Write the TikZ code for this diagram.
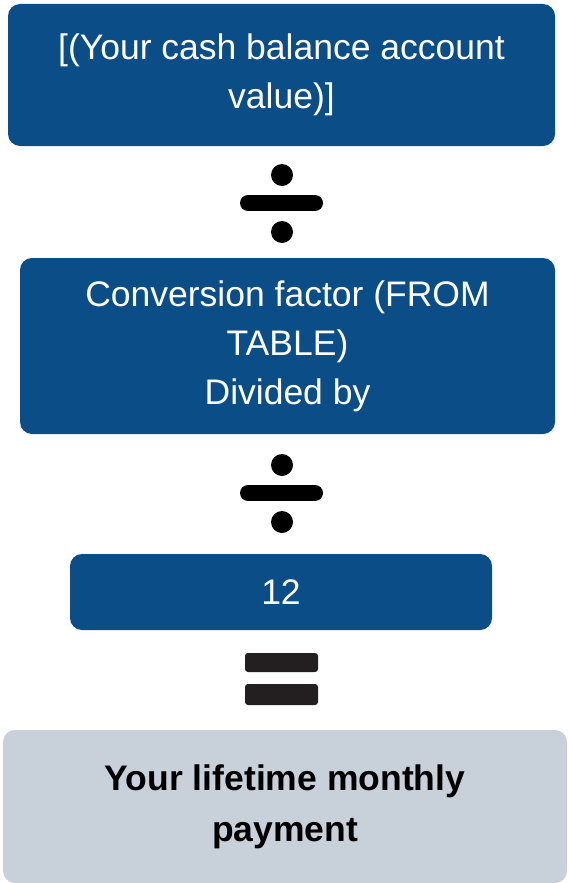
\documentclass[tikz,border=0pt]{standalone}
\usepackage{fontspec}
\setmainfont{Liberation Sans}
\usepackage{tikz}
\definecolor{boxblue}{HTML}{0B4D87}
\definecolor{boxgrey}{HTML}{C8D0DA}
\definecolor{opblack}{HTML}{231F20}
\tikzset{%
  bluebox/.style={shape=rectangle,rounded corners=12,fill=boxblue,text=white,align=center,
    font=\fontsize{35.5}{49}\selectfont,inner sep=0},
  greybox/.style={shape=rectangle,rounded corners=12,fill=boxgrey,text=black,align=center,
    font=\fontsize{35.5}{51}\selectfont\bfseries,inner sep=0},
  opdot/.style={fill=black},
  opbar/.style={draw=black,line width=16,line cap=round},
  eqbar/.style={fill=opblack,rounded corners=3}
}

\begin{document}
\begin{tikzpicture}[x=1pt,y=-1pt]
    \useasboundingbox (0,0) rectangle (569,883);
    \path
      (281.5,75) node (cash)[bluebox,minimum width=547,minimum height=142]
        {[(Your cash balance account\\value)]}
      (287.5,346) node (conv)[bluebox,minimum width=535,minimum height=176]
        {Conversion factor (FROM\\TABLE)\\Divided by}
      (281,592) node (twelve)[bluebox,minimum width=422,minimum height=76]{12}
      (285,806.5) node (pay)[greybox,minimum width=564,minimum height=153]
        {Your lifetime monthly\\payment};
    % divide signs
    \foreach \y in {203,493} {
      \fill[opdot] (282,\y-28) circle (11);
      \fill[opdot] (282,\y+29) circle (11);
      \draw[opbar] (248,\y) -- (315,\y);
    }
    % equals sign
    \fill[eqbar] (245,653) rectangle (318,672);
    \fill[eqbar] (245,684) rectangle (318,705);
  \end{tikzpicture}
\end{document}
